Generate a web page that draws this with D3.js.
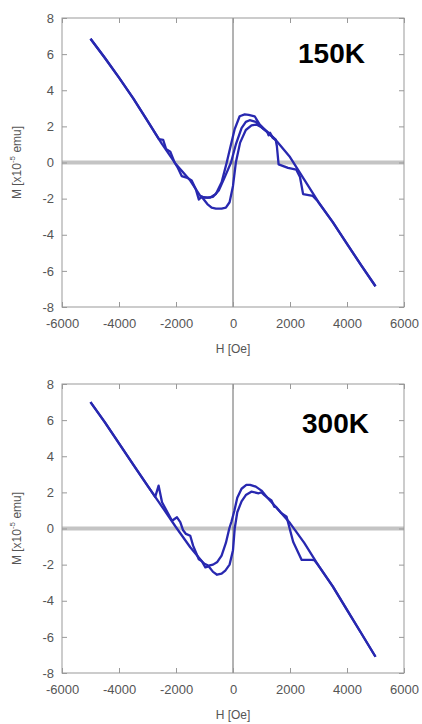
<!DOCTYPE html>
<html>
<head>
<meta charset="utf-8">
<script src="https://cdn.jsdelivr.net/npm/d3@7/dist/d3.min.js"></script>
<style>
  body { margin: 0; background: #fff; }
  svg text { font-family: 'Liberation Sans', Arial, sans-serif; }
</style>
</head>
<body>
<svg id="chart" width="422" height="724"></svg>
<script>
// tick values
let fieldTicks = [-6000, -4000, -2000, 0, 2000, 4000, 6000]
let momentTicks = [-8, -6, -4, -2, 0, 2, 4, 6, 8]

// 150K loop, [H (Oe), M (x10^-5 emu)]
let up150 = [
  [-5000, 6.85], [-4500, 5.8], [-4000, 4.7], [-3500, 3.55], [-3000, 2.3],
  [-2600, 1.3], [-2450, 1.25], [-2350, 0.75], [-2200, 0.6], [-2050, 0.0],
  [-1950, -0.25], [-1800, -0.75], [-1600, -0.85], [-1450, -1.0], [-1300, -1.5],
  [-1200, -2.05], [-1100, -1.9], [-900, -2.3], [-750, -2.5], [-600, -2.55],
  [-400, -2.55], [-250, -2.5], [-120, -2.2], [0, -1.3], [100, 0.0],
  [250, 1.1], [450, 1.8], [650, 2.05], [820, 2.1], [1000, 1.95],
  [1200, 1.7], [1500, 1.25], [1540, 0.9], [1600, -0.1], [1930, -0.3],
  [2220, -0.4], [2350, -0.8], [2460, -1.75], [2800, -1.85], [2950, -2.1],
  [3500, -3.3], [4000, -4.5], [4500, -5.7], [5000, -6.85]
]
let down150 = [
  [5000, -6.85], [4500, -5.7], [4000, -4.5], [3500, -3.3], [3000, -2.2],
  [2500, -0.95], [2000, 0.3], [1500, 1.25], [1200, 1.7], [940, 2.1],
  [760, 2.56], [550, 2.64], [410, 2.66], [234, 2.56], [60, 1.85],
  [-100, 0.8], [-220, 0.0], [-400, -1.1], [-600, -1.75], [-800, -1.94],
  [-1000, -1.95], [-1150, -1.85], [-1500, -1.0], [-2000, -0.1], [-2500, 1.05],
  [-3000, 2.3], [-3500, 3.55], [-4000, 4.7], [-4500, 5.8], [-5000, 6.85]
]
let mid150 = [
  [-1100, -1.9], [-900, -1.95], [-700, -1.9], [-500, -1.55], [-300, -0.85],
  [-70, 0.0], [100, 1.0], [300, 1.9], [450, 2.25], [585, 2.34],
  [800, 2.25], [1000, 1.95], [1200, 1.7], [1250, 1.5], [1300, 1.65],
  [1400, 1.35], [1500, 1.25]
]

// 300K loop
let up300 = [
  [-5000, 7.0], [-4500, 5.89], [-4000, 4.71], [-3500, 3.54], [-3000, 2.37],
  [-2730, 1.75], [-2610, 2.37], [-2490, 1.45], [-2300, 0.9], [-2140, 0.43],
  [-1965, 0.62], [-1850, 0.35], [-1750, -0.1], [-1650, -0.3], [-1500, -0.4],
  [-1400, -0.95], [-1200, -1.7], [-1100, -1.8], [-970, -2.15], [-850, -2.1],
  [-700, -2.4], [-560, -2.56], [-400, -2.5], [-270, -2.33], [-120, -2.0],
  [0, -1.2], [60, 0.0], [150, 0.9], [300, 1.5], [450, 1.85],
  [643, 2.04], [900, 1.95], [1000, 2.0], [1100, 1.85], [1200, 1.72],
  [1350, 1.55], [1450, 1.2], [1500, 1.2], [1700, 0.85], [1880, 0.65],
  [2110, -0.73], [2410, -1.74], [2760, -1.74], [2850, -1.75], [3000, -2.05],
  [3500, -3.2], [4000, -4.5], [4500, -5.8], [5000, -7.1]
]
let down300 = [
  [5000, -7.1], [4500, -5.8], [4000, -4.5], [3500, -3.2], [3000, -2.05],
  [2500, -0.8], [2000, 0.3], [1500, 1.2], [1200, 1.72], [1000, 2.1],
  [800, 2.32], [600, 2.42], [468, 2.41], [300, 2.2], [150, 1.7],
  [50, 1.0], [-50, 0.4], [-130, 0.0], [-250, -0.8], [-400, -1.5],
  [-550, -1.85], [-700, -2.0], [-853, -2.06], [-1000, -1.95], [-1100, -1.8],
  [-1500, -1.04], [-2000, 0.07], [-2500, 1.23], [-3000, 2.37], [-3500, 3.54],
  [-4000, 4.71], [-4500, 5.89], [-5000, 7.0]
]

let panels = [
  { label: '150K', top: 18, bottom: 307, labelX: 298, labelY: 63, branches: [up150, down150, mid150] },
  { label: '300K', top: 384, bottom: 673, labelX: 302, labelY: 433, branches: [up300, down300] }
]

let svg = d3.select('#chart')

let xPositionScale = d3.scaleLinear()
  .domain([-6000, 6000])
  .range([62, 404])

let axisColor = '#999'
let textColor = '#555'

panels.forEach(p => {
  let yPositionScale = d3.scaleLinear()
    .domain([-8, 8])
    .range([p.bottom, p.top])

  let g = svg.append('g')

  // zero lines
  g.append('line')
    .attr('x1', xPositionScale(-6000))
    .attr('x2', xPositionScale(6000))
    .attr('y1', yPositionScale(0))
    .attr('y2', yPositionScale(0))
    .attr('stroke', '#c4c4c4')
    .attr('stroke-width', 4)

  g.append('line')
    .attr('x1', xPositionScale(0))
    .attr('x2', xPositionScale(0))
    .attr('y1', p.top)
    .attr('y2', p.bottom)
    .attr('stroke', '#666')
    .attr('stroke-width', 1)

  let bottomAxis = d3.axisBottom(xPositionScale)
    .tickValues(fieldTicks)
    .tickSize(-5)
    .tickPadding(12)
    .tickFormat(d => String(d))
  let topAxis = d3.axisTop(xPositionScale)
    .tickValues(fieldTicks)
    .tickSize(-5)
    .tickFormat('')
  let leftAxis = d3.axisLeft(yPositionScale)
    .tickValues(momentTicks)
    .tickSize(-5)
    .tickPadding(8)
    .tickFormat(d => String(d))
  let rightAxis = d3.axisRight(yPositionScale)
    .tickValues(momentTicks)
    .tickSize(-5)
    .tickFormat('')

  let axes = [
    [bottomAxis, `translate(0,${p.bottom})`],
    [topAxis, `translate(0,${p.top})`],
    [leftAxis, `translate(${xPositionScale(-6000)},0)`],
    [rightAxis, `translate(${xPositionScale(6000)},0)`]
  ]
  axes.forEach(([axis, tr]) => {
    let a = g.append('g').attr('transform', tr).call(axis)
    a.select('.domain').remove()
    a.selectAll('line').attr('stroke', axisColor)
    a.selectAll('text')
      .attr('fill', textColor)
      .attr('font-size', 13)
      .style('font-family', "'Liberation Sans', Arial, sans-serif")
  })

  // frame
  g.append('rect')
    .attr('x', xPositionScale(-6000))
    .attr('y', p.top)
    .attr('width', xPositionScale(6000) - xPositionScale(-6000))
    .attr('height', p.bottom - p.top)
    .attr('fill', 'none')
    .attr('stroke', axisColor)

  let line = d3.line()
    .x(d => xPositionScale(d[0]))
    .y(d => yPositionScale(d[1]))

  g.selectAll('.branch')
    .data(p.branches)
    .enter()
    .append('path')
    .attr('class', 'branch')
    .attr('d', line)
    .attr('fill', 'none')
    .attr('stroke', '#2828b0')
    .attr('stroke-width', 2.3)
    .attr('stroke-linejoin', 'round')

  // axis titles
  g.append('text')
    .text('H [Oe]')
    .attr('x', xPositionScale(0))
    .attr('y', p.bottom + 46)
    .attr('text-anchor', 'middle')
    .attr('font-size', 12)
    .attr('fill', textColor)

  let yTitle = g.append('text')
    .attr('transform', `translate(18,${(p.top + p.bottom) / 2}) rotate(-90)`)
    .attr('text-anchor', 'middle')
    .attr('dominant-baseline', 'middle')
    .attr('font-size', 12)
    .attr('fill', textColor)
  yTitle.append('tspan').text('M [x10')
  yTitle.append('tspan').text('-5').attr('font-size', 8).attr('dy', -5)
  yTitle.append('tspan').text(' emu]').attr('dy', 5)

  g.append('text')
    .text(p.label)
    .attr('x', p.labelX)
    .attr('y', p.labelY)
    .attr('font-size', 28)
    .attr('font-weight', 'bold')
    .attr('fill', '#000')
})
</script>
</body>
</html>
